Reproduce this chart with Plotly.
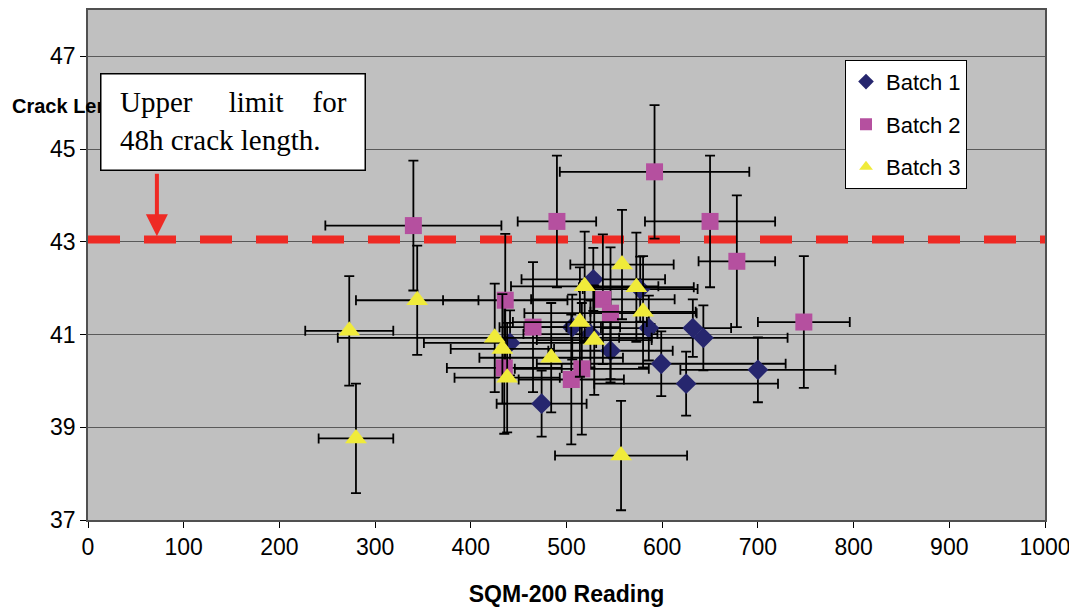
import plotly.graph_objects as go

# ---- data ----
b1_x = [528, 577, 506, 525, 441, 546, 586, 632, 643, 599, 625, 700, 474]
b1_y = [42.19, 41.98, 41.16, 41.01, 40.82, 40.65, 41.14, 41.14, 40.93, 40.37, 39.94, 40.24, 39.51]
b1_xerr = [75, 60, 50, 70, 90, 65, 50, 40, 88, 130, 96, 81, 47]
b1_yerr = [0.68, 0.7, 0.7, 0.72, 0.7, 0.68, 0.7, 0.62, 0.7, 0.7, 0.69, 0.7, 0.71]

b2_x = [340, 592, 490, 650, 678, 748, 436, 538, 546, 465, 435, 516, 505]
b2_y = [43.35, 44.51, 43.44, 43.44, 42.58, 41.27, 41.74, 41.76, 41.46, 41.16, 40.28, 40.26, 40.03]
b2_xerr = [92, 99, 41, 68, 40, 48, 65, 75, 90, 35, 60, 70, 55]
b2_yerr = [1.4, 1.44, 1.42, 1.42, 1.42, 1.42, 1.43, 1.4, 1.42, 1.4, 1.42, 1.42, 1.4]

b3_x = [558, 519, 573, 580, 514, 425, 433, 529, 484, 438, 557, 273, 280, 344]
b3_y = [42.51, 42.04, 42.02, 41.49, 41.27, 40.93, 40.69, 40.88, 40.50, 40.07, 38.39, 41.08, 38.76, 41.74]
b3_xerr = [54, 77, 60, 55, 70, 164, 54, 60, 75, 55, 69, 46, 39, 64]
b3_yerr = [1.18, 1.18, 1.18, 1.2, 1.18, 1.17, 1.18, 1.18, 1.18, 1.18, 1.18, 1.18, 1.18, 1.18]

limit_x = [0, 1000]
limit_y = [43.05, 43.05]

x_ticks = list(range(0, 1001, 100))
y_ticks = [37, 39, 41, 43, 45, 47]

# ---- figure ----
fig = go.Figure()

fig.add_trace(go.Scatter(x=limit_x, y=limit_y, mode="lines", showlegend=False,
                         line=dict(color="#EE2A24", width=8, dash="32px,24px"),
                         hoverinfo="skip"))

def err(vals):
    return dict(type="data", array=vals, color="black", thickness=1.8, width=5)

fig.add_trace(go.Scatter(x=b1_x, y=b1_y, mode="markers", name="Batch 1", legendgroup="g1",
                         marker=dict(symbol="diamond", size=16, color="#26266E", line=dict(width=0)),
                         error_x=err(b1_xerr), error_y=err(b1_yerr)))
fig.add_trace(go.Scatter(x=b2_x, y=b2_y, mode="markers", name="Batch 2", legendgroup="g2",
                         marker=dict(symbol="square", size=17, color="#B5509F", line=dict(width=0)),
                         error_x=err(b2_xerr), error_y=err(b2_yerr)))
fig.add_trace(go.Scatter(x=b3_x, y=b3_y, mode="markers", name="Batch 3", legendgroup="g3",
                         marker=dict(symbol="triangle-up", size=19, color="#F0EB3A", line=dict(width=0)),
                         error_x=err(b3_xerr), error_y=err(b3_yerr)))

# page pixel geometry (page has an 8px body margin)
OFF = 8
PL, PT, PR, PB = 88, 8, 1045, 520
W, H = 1077, 607
L, T = PL - OFF, PT - OFF
R = (W + OFF) - PR
B = (H + OFF) - PB
pw, ph = PR - PL, PB - PT

def px2paper(px, py):
    return (px - PL) / pw, (PB - py) / ph

annots = []
tx, ty = px2paper(10, 104)
annots.append(dict(text="<b>Crack Length (mm)</b>", x=tx, y=ty, xref="paper", yref="paper",
                   xanchor="left", yanchor="middle", showarrow=False,
                   font=dict(family="Arial, Liberation Sans", size=20, color="black")))
bx, by = px2paper(233, 120)
annots.append(dict(text="\u00a0", x=bx, y=by, xref="paper", yref="paper",
                   xanchor="center", yanchor="middle", showarrow=False,
                   width=263, height=95, bgcolor="white", bordercolor="black", borderwidth=1.5, borderpad=0))
lx, ly = px2paper(118, 82)
annots.append(dict(text="Upper\u00a0\u00a0\u00a0\u00a0\u00a0limit\u00a0\u00a0\u00a0\u00a0for<br>48h crack length.",
                   x=lx, y=ly, xref="paper", yref="paper", xanchor="left", yanchor="top",
                   align="left", showarrow=False,
                   font=dict(family="Liberation Serif, serif", size=29, color="black")))
annots.append(dict(text="", x=72, y=43.12, xref="x", yref="y", showarrow=True,
                   ax=0, ay=-64, arrowcolor="#EE2A24", arrowwidth=4, arrowhead=2, arrowsize=1.1))

fig.update_layout(
    width=W, height=H,
    margin=dict(l=L, r=R, t=T, b=B),
    paper_bgcolor="white", plot_bgcolor="#C0C0C0",
    font=dict(family="Arial, Liberation Sans", size=22, color="black"),
    xaxis=dict(range=[0, 1000], tickvals=x_ticks, ticks="outside", ticklen=6, tickcolor="black",
               showgrid=False, showline=True, linecolor="#505050", linewidth=1.5, mirror=True,
               zeroline=False, tickfont=dict(size=23),
               title=dict(text="<b>SQM-200 Reading</b>", font=dict(size=23), standoff=27)),
    yaxis=dict(range=[37, 48], tickvals=y_ticks, ticks="outside", ticklen=6, tickcolor="black",
               showgrid=True, gridcolor="#5A5A5A", gridwidth=1,
               showline=True, linecolor="#505050", linewidth=1.5, mirror=True,
               zeroline=False, tickfont=dict(size=23)),
    legend=dict(x=(845 - PL) / pw, y=(PB - 58) / ph, xanchor="left", yanchor="top",
                bgcolor="white", bordercolor="black", borderwidth=1,
                font=dict(size=22), traceorder="grouped", tracegroupgap=11,
                itemsizing="constant"),
    annotations=annots,
    showlegend=True,
)

fig.write_html("out.html")
